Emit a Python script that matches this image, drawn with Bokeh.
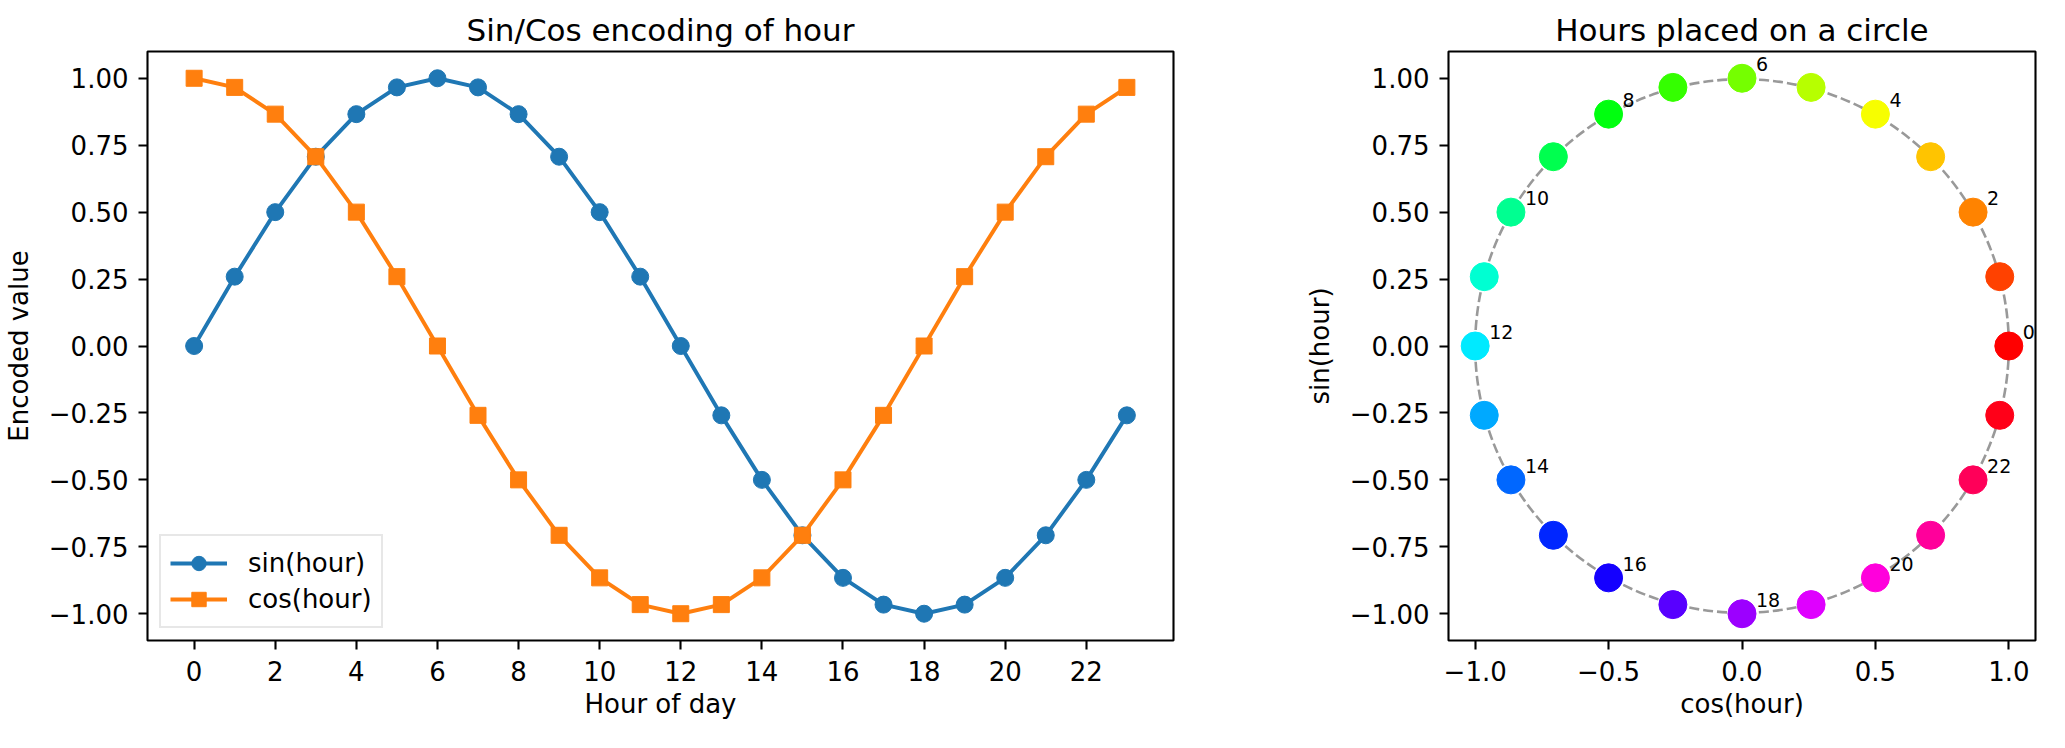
from bokeh.plotting import figure
from bokeh.layouts import row
from bokeh.models import FixedTicker, CustomJSTickFormatter, Range1d, ColumnDataSource, Legend
from bokeh.core.properties import value
from bokeh.embed import file_html
from bokeh.resources import INLINE

# ---- data ----
hours = list(range(24))
sin_vals = [0.0, 0.259, 0.5, 0.707, 0.866, 0.966, 1.0, 0.966, 0.866, 0.707, 0.5, 0.259,
            0.0, -0.259, -0.5, -0.707, -0.866, -0.966, -1.0, -0.966, -0.866, -0.707, -0.5, -0.259]
cos_vals = [1.0, 0.966, 0.866, 0.707, 0.5, 0.259, 0.0, -0.259, -0.5, -0.707, -0.866, -0.966,
            -1.0, -0.966, -0.866, -0.707, -0.5, -0.259, 0.0, 0.259, 0.5, 0.707, 0.866, 0.966]
hour_colors = ["#ff0000", "#ff4100", "#ff8300", "#ffc400", "#f7fe00", "#b7ff00", "#75ff00", "#34ff00",
               "#00ff0f", "#00ff4f", "#00ff91", "#00ffd2", "#00eaff", "#00a9ff", "#0067ff", "#0026ff",
               "#1400ff", "#5800ff", "#9c00ff", "#df00ff", "#ff00dc", "#ff009b", "#ff0059", "#ff0018"]
label_hours = [0, 2, 4, 6, 8, 10, 12, 14, 16, 18, 20, 22]
x_ticks_left = [0, 2, 4, 6, 8, 10, 12, 14, 16, 18, 20, 22]
y_ticks = [-1.0, -0.75, -0.5, -0.25, 0.0, 0.25, 0.5, 0.75, 1.0]
x_ticks_right = [-1.0, -0.5, 0.0, 0.5, 1.0]
circle_radius = [1.0]

FONT = "DejaVu Sans"
BLUE = "#1f77b4"
ORANGE = "#ff7f0e"


def style(p, xlabel, ylabel, xticks, yticks, xfmt, yfmt):
    p.title.text_font = FONT
    p.title.text_font_size = "31px"
    p.title.text_font_style = "normal"
    p.title.align = "center"
    p.title.text_color = "black"
    p.title.standoff = 7
    p.outline_line_color = "black"
    p.outline_line_width = 2.1
    p.outline_line_alpha = 1.0
    p.xgrid.visible = False
    p.ygrid.visible = False
    p.xaxis.axis_label = xlabel
    p.yaxis.axis_label = ylabel
    p.xaxis.ticker = FixedTicker(ticks=xticks)
    p.yaxis.ticker = FixedTicker(ticks=yticks)
    p.xaxis.formatter = CustomJSTickFormatter(code=xfmt)
    p.yaxis.formatter = CustomJSTickFormatter(code=yfmt)
    for ax in (p.xaxis, p.yaxis):
        ax.axis_line_color = None
        ax.major_tick_line_color = "black"
        ax.major_tick_line_width = 2.1
        ax.major_tick_out = 9
        ax.major_tick_in = 0
        ax.minor_tick_line_color = None
        ax.major_label_text_font = FONT
        ax.major_label_text_font_size = "26px"
        ax.major_label_text_color = "black"
        ax.axis_label_text_font = FONT
        ax.axis_label_text_font_size = "26px"
        ax.axis_label_text_font_style = "normal"
        ax.axis_label_text_color = "black"
    p.xaxis.major_label_standoff = 11
    p.yaxis.major_label_standoff = 10
    p.xaxis.axis_label_standoff = 5
    p.yaxis.axis_label_standoff = 12


fmt2 = "return tick.toFixed(2).replace('-', '\u2212');"
fmt1 = "return tick.toFixed(1).replace('-', '\u2212');"
fmt0 = "return tick.toFixed(0);"

# ---- left figure ----
p1 = figure(title="Sin/Cos encoding of hour", frame_width=1026, frame_height=589,
            x_range=Range1d(-1.15, 24.15), y_range=Range1d(-1.1, 1.1),
            output_backend="svg", toolbar_location=None,
            min_border_left=147, min_border_right=117, min_border_top=51, min_border_bottom=80)
style(p1, "Hour of day", "Encoded value", x_ticks_left, y_ticks, fmt0, fmt2)

src = ColumnDataSource(dict(h=hours, s=sin_vals, c=cos_vals))
l1 = p1.line("h", "s", source=src, line_color=BLUE, line_width=3.9)
m1 = p1.scatter("h", "s", source=src, marker="circle", size=17, fill_color=BLUE, line_color=BLUE)
l2 = p1.line("h", "c", source=src, line_color=ORANGE, line_width=3.9)
m2 = p1.scatter("h", "c", source=src, marker="square", size=16, fill_color=ORANGE, line_color=ORANGE)

legend = Legend(items=[("sin(hour)", [l1, m1]), ("cos(hour)", [l2, m2])], location="bottom_left")
legend.label_text_font = FONT
legend.label_text_font_size = "26px"
legend.label_text_color = "black"
legend.glyph_width = 57
legend.glyph_height = 36
legend.label_height = 36
legend.label_standoff = 21
legend.spacing = 0
legend.padding = 9
legend.margin = 12
legend.border_line_color = "#d0d0d0"
legend.border_line_width = 2.5
legend.background_fill_alpha = 0.8
p1.add_layout(legend)

# ---- right figure ----
p2 = figure(title="Hours placed on a circle", frame_width=587, frame_height=589,
            x_range=Range1d(-1.1, 1.1), y_range=Range1d(-1.1, 1.1),
            output_backend="svg", toolbar_location=None,
            min_border_left=158, min_border_right=12, min_border_top=51, min_border_bottom=80)
style(p2, "cos(hour)", "sin(hour)", x_ticks_right, y_ticks, fmt1, fmt2)

p2.circle(x=[0.0], y=[0.0], radius=circle_radius, fill_color=None, line_color="#999999",
          line_width=2.6, line_dash="10 4")
src2 = ColumnDataSource(dict(x=cos_vals, y=sin_vals, col=hour_colors))
p2.scatter("x", "y", source=src2, marker="circle", size=28, fill_color="col", line_color="col")

lab = ColumnDataSource(dict(x=[cos_vals[h] for h in label_hours],
                            y=[sin_vals[h] for h in label_hours],
                            t=[str(h) for h in label_hours]))
p2.text("x", "y", text="t", source=lab, x_offset=14, y_offset=-14,
        text_font=value(FONT), text_font_size="19px", text_color="black",
        text_baseline="alphabetic", text_align="left")

layout = row(p1, p2, spacing=0)
open("out.html", "w").write(file_html(layout, INLINE))
